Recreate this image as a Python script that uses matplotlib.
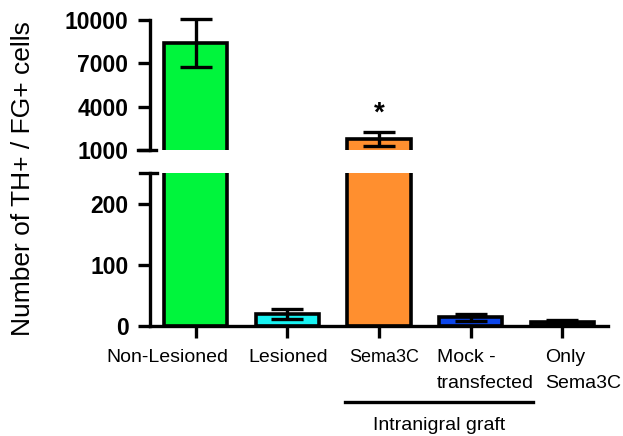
import matplotlib
matplotlib.use("Agg")
import matplotlib.pyplot as plt
import matplotlib.transforms as mtransforms
import numpy as np

plt.rcParams['font.family'] = ['Liberation Sans', 'DejaVu Sans']

# ---- data ----
categories = ["Non-Lesioned", "Lesioned", "Sema3C", "Mock -\ntransfected", "Only\nSema3C"]
means = [8400, 19, 1750, 14, 7]
errors = [1650, 8, 500, 6, 3]
colors = ["#00f53c", "#17f2f2", "#ff8f2f", "#0b45ea", "#111111"]
top_ticks = [1000, 4000, 7000, 10000]
bottom_ticks = [0, 100, 200]
group_label = "Intranigral graft"
ylabel = "Number of TH+ / FG+ cells"

W, H = 623, 436
fig = plt.figure(figsize=(W / 100, H / 100), dpi=100)

def fx(px):
    return px / W

def fy(py):
    return 1 - py / H

ax_top = fig.add_axes([fx(150), fy(150), fx(608) - fx(150), fy(20) - fy(150)])
ax_bot = fig.add_axes([fx(150), fy(326), fx(608) - fx(150), fy(173) - fy(326)])

x = np.arange(len(categories))
lw = 2.6
for ax in (ax_top, ax_bot):
    ax.bar(x, means, width=0.69, color=colors, edgecolor="black", linewidth=lw, zorder=2)
    ax.set_xlim(-0.5, 4.5)
    for s in ("top", "right"):
        ax.spines[s].set_visible(False)
    ax.spines["left"].set_linewidth(2.4)
    ax.tick_params(axis="y", length=8.5, width=2.4, pad=7, labelsize=16)

ax_top.set_ylim(1000, 10000)
ax_top.set_yticks(top_ticks)
ax_top.set_yticklabels([str(v) for v in top_ticks], fontweight="bold", fontsize=16.5)
ax_top.spines["bottom"].set_visible(False)
ax_top.set_xticks([])

ax_bot.set_ylim(0, 250)
ax_bot.set_yticks(bottom_ticks)
ax_bot.set_yticklabels([str(v) for v in bottom_ticks], fontweight="bold", fontsize=16.5)
ax_bot.spines["bottom"].set_linewidth(2.4)
ax_bot.set_xticks(x)
ax_bot.set_xticklabels([""] * len(categories))
ax_bot.tick_params(axis="x", length=8.5, width=2.4)

# error bars
for i, (m, e) in enumerate(zip(means, errors)):
    ax = ax_top if m > 1000 else ax_bot
    ax.errorbar(x[i], m, yerr=e, fmt="none", ecolor="black", elinewidth=2.4,
                capsize=11.5, capthick=2.4, clip_on=False, zorder=3)

# break marks
fig.add_artist(plt.Line2D([fx(138), fx(156)], [fy(150), fy(150)], color="black", lw=2.4))
fig.add_artist(plt.Line2D([fx(140), fx(157)], [fy(173), fy(173)], color="black", lw=2.4))

# category labels (left-aligned, offset from their tick in data units)
label_left_offsets = [-0.98, -0.43, -0.328, -0.367, -0.188]
label_sizes = [14, 14, 13, 14, 14]
trans = mtransforms.blended_transform_factory(ax_bot.transData, fig.transFigure)
for i, lab in enumerate(categories):
    lines = lab.split("\n")
    for j, line in enumerate(lines):
        fig.text(x[i] + label_left_offsets[i], fy(362 + 26 * j), line,
                 transform=trans, ha="left", va="baseline", fontsize=label_sizes[i])

# group line and label
fig.add_artist(plt.Line2D([fx(345), fx(533)], [fy(402), fy(402)], color="black", lw=2.4))
fig.text(fx(439), fy(430), group_label, ha="center", va="baseline", fontsize=14)

# significance
star_off = mtransforms.offset_copy(ax_top.transData, fig=fig, x=0, y=8, units="points")
ax_top.text(x[2], means[2] + errors[2], "*", transform=star_off,
            ha="center", va="baseline", fontsize=20, fontweight="bold")

fig.text(fx(23), fy(178.5), ylabel, rotation=90, ha="center", va="center", fontsize=19)

fig.savefig("out.png", dpi=100)
